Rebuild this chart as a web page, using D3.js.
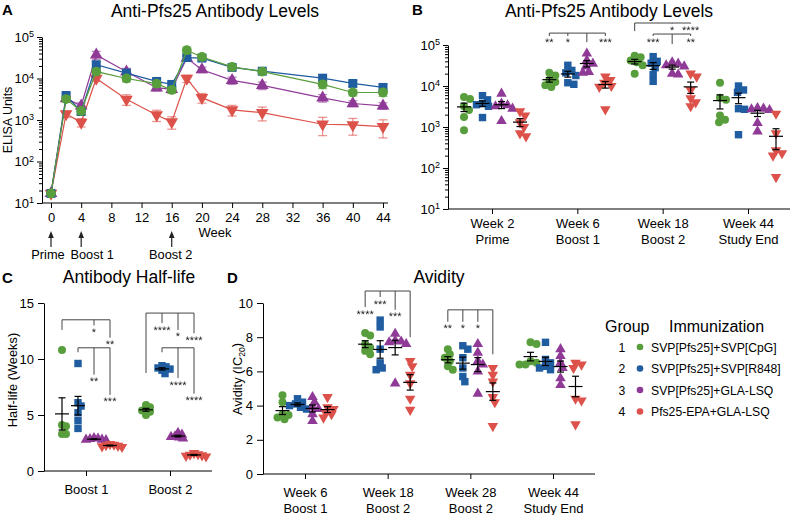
<!DOCTYPE html>
<html>
<head>
<meta charset="utf-8">
<script src="https://cdn.jsdelivr.net/npm/d3@7"></script>
<style>
  body { margin: 0; background: #fff; }
  svg { font-family: "Liberation Sans", Arial, sans-serif; }
  .stars { text-rendering: geometricPrecision; }
</style>
</head>
<body>
<svg id="fig" width="792" height="515"></svg>
<script>
// ---------- data ----------
const groupIds = ["1", "2", "3", "4"];
const groupNames = ["SVP[Pfs25]+SVP[CpG]", "SVP[Pfs25]+SVP[R848]", "SVP[Pfs25]+GLA-LSQ", "Pfs25-EPA+GLA-LSQ"];
const groupColors = ["#589e3c", "#1f5ca0", "#8e3a96", "#dc524a"];

// A: time course, mean and SEM of ELISA units
const weeksA = [0, 2, 4, 6, 10, 14, 16, 18, 20, 24, 28, 36, 40, 44];
const weekTicksA = [0, 4, 8, 12, 16, 20, 24, 28, 32, 36, 40, 44];
const meanA1 = [17, 3200, 1650, 14700, 10000, 7500, 5300, 48000, 33000, 19000, 14700, 7200, 4600, 4600];
const semA1 = [0, 500, 300, 2500, 1800, 1200, 900, 9000, 5000, 2500, 2000, 1500, 800, 900];
const meanA2 = [17, 3900, 1600, 21500, 13500, 8500, 7200, 32000, 31000, 18500, 15000, 10200, 7600, 6100];
const semA2 = [0, 500, 250, 4000, 2500, 1200, 1000, 4000, 5000, 2500, 2000, 1500, 1200, 1000];
const meanA3 = [17, 3300, 2200, 37000, 14500, 6000, 5500, 31000, 16300, 9000, 6800, 3400, 2500, 2200];
const semA3 = [0, 500, 400, 8000, 3000, 1000, 900, 4000, 2500, 1800, 1400, 700, 400, 400];
const meanA4 = [17, 1400, 880, 10000, 3150, 1320, 900, 10000, 3450, 1750, 1500, 790, 760, 690];
const semA4 = [0, 250, 200, 1500, 900, 400, 300, 2000, 900, 500, 550, 370, 330, 320];
const doses = ["Prime", "Boost 1", "Boost 2"];
const doseWeeks = [0, 4, 16];

// B: individual ELISA units per animal
const catsB = ["Week 2", "Week 6", "Week 18", "Week 44"];
const phasesB = ["Prime", "Boost 1", "Boost 2", "Study End"];
const elisaB1 = [[5400, 4800, 3200, 2600, 1750, 830], [21000, 18000, 14000, 12500, 10500, 9500], [55000, 50000, 42000, 38000, 32000, 20000], [12000, 5200, 4600, 1900, 1500, 1300]];
const elisaB2 = [[5800, 4600, 3700, 3500, 3200, 1700], [32000, 24000, 21000, 18000, 12000, 11000], [52000, 40000, 36000, 28000, 19000, 13000], [10000, 8000, 7000, 2800, 2700, 650]];
const elisaB3 = [[6500, 3700, 3400, 3200, 2800, 1400], [62000, 42000, 35000, 30000, 22000, 21000], [38000, 35000, 32000, 30000, 20000, 19000], [2900, 2800, 2700, 2600, 1250, 780]];
const elisaB4 = [[2400, 1900, 1300, 1000, 700, 590], [17000, 14000, 12000, 10000, 9500, 2700], [20000, 17000, 8000, 5000, 4000, 3200], [2100, 700, 270, 230, 200, 60]];

// C: antibody half-life (weeks)
const catsC = ["Boost 1", "Boost 2"];
const halfLife1 = [[10.8, 4.1, 4.0, 3.3, 3.3], [5.9, 5.7, 5.5, 5.4, 5.3, 5.0]];
const halfLife2 = [[9.6, 6.1, 5.8, 5.2, 4.5, 3.8], [9.4, 9.3, 9.2, 9.1, 9.0, 8.7]];
const halfLife3 = [[2.95, 2.9, 2.85, 2.8, 2.8, 2.75], [3.4, 3.25, 3.1, 3.05, 3.0, 2.9]];
const halfLife4 = [[2.4, 2.35, 2.3, 2.25, 2.2, 2.15], [1.6, 1.5, 1.45, 1.4, 1.35, 1.3]];

// D: avidity (IC20)
const catsD = ["Week 6", "Week 18", "Week 28", "Week 44"];
const phasesD = ["Boost 1", "Boost 2", "Boost 2", "Study End"];
const avidity1 = [[4.6, 4.2, 3.5, 3.45, 3.3, 3.2], [8.25, 8.1, 7.6, 7.4, 7.2, 7.0], [7.3, 7.0, 6.8, 6.6, 6.3, 6.1], [7.7, 7.6, 6.6, 6.5, 6.4, 6.4]];
const avidity2 = [[4.4, 4.2, 4.1, 4.0, 3.9, 3.8], [9.0, 8.6, 7.3, 6.5, 6.2, 6.1], [7.5, 7.3, 6.8, 6.2, 5.7, 5.4], [7.7, 6.7, 6.5, 6.3, 6.2, 6.1]];
const avidity3 = [[4.5, 4.2, 3.9, 3.8, 3.5, 3.1], [8.2, 7.8, 7.75, 7.7, 7.6, 5.3], [7.6, 7.1, 6.6, 6.4, 6.0, 4.7], [7.3, 6.9, 6.5, 6.2, 5.6, 5.2]];
const avidity4 = [[4.5, 3.9, 3.8, 3.6, 3.5, 3.3], [6.6, 6.3, 5.8, 5.3, 4.4, 3.75], [6.2, 5.8, 5.4, 4.5, 4.2, 2.8], [6.5, 6.4, 6.2, 4.4, 4.3, 2.9]];

// significance brackets: category, level, reference group + its drop end, targets [group, drop end, stars]
const bracketsB = [
    { cat: 1, level: 195000, ref: 2, refEnd: 118000, to: [[0, 166000, "**"], [1, 166000, "*"], [3, 166000, "***"]] },
    { cat: 2, level: 344000, ref: 0, refEnd: 219000, to: [[2, 335000, "*"], [3, 335000, "****"]] },
    { cat: 2, level: 185000, ref: 2, refEnd: 105000, to: [[1, 166000, "***"], [3, 166000, "**"]] }
];
const bracketsC = [
    { cat: 0, level: 13.5, ref: 0, refEnd: 12.6, to: [[2, 13.0, "*"], [3, 11.9, "**"]] },
    { cat: 0, level: 11.0, ref: 1, refEnd: 10.6, to: [[2, 8.6, "**"], [3, 6.8, "***"]] },
    { cat: 1, level: 14.1, ref: 0, refEnd: 8.75, to: [[1, 13.2, "****"], [2, 12.6, "*"], [3, 12.3, "****"]] },
    { cat: 1, level: 11.0, ref: 1, refEnd: 10.6, to: [[2, 8.3, "****"], [3, 6.9, "****"]] }
];
const bracketsD = [
    { cat: 1, level: 10.7, ref: 3, refEnd: 8.0, to: [[0, 9.76, "****"], [1, 10.35, "***"], [2, 9.6, "***"]] },
    { cat: 2, level: 9.6, ref: 3, refEnd: 7.0, to: [[0, 8.9, "**"], [1, 8.9, "*"], [2, 8.9, "*"]] }
];

// ---------- helpers ----------
const svg = d3.select("#fig");
// plain pass-through filter: stars are rasterised off-screen in grey scale
svg.append("defs").append("filter").attr("id", "flat")
    .append("feOffset").attr("dx", 0).attr("dy", 0);

const shapes = [d3.symbolCircle, d3.symbolSquare, d3.symbolTriangle, d3.symbolTriangle];
const rotations = [0, 0, 0, 180];

const marker = (g, gi, x, y, size) => g.append("path")
    .attr("d", d3.symbol(shapes[gi], size[gi])())
    .attr("transform", "translate(" + x + "," + y + ") rotate(" + rotations[gi] + ")")
    .attr("fill", groupColors[gi]);

const styleAxis = ax => ax.attr("font-size", null).attr("font-family", null);

function logAxis(g, y, x0) {
    const majors = [10, 100, 1000, 10000, 100000];
    let minors = [];
    for (let e = 1; e < 5; e++) for (let m = 2; m < 10; m++) minors.push(m * Math.pow(10, e));
    g.append("g").attr("transform", "translate(" + x0 + ",0)")
        .call(d3.axisLeft(y).tickValues(minors).tickSize(3).tickSizeOuter(0).tickFormat(""))
        .select(".domain").remove();
    const maj = g.append("g").attr("transform", "translate(" + x0 + ",0)")
        .call(d3.axisLeft(y).tickValues(majors).tickSize(5).tickSizeOuter(0).tickPadding(3));
    styleAxis(maj).attr("font-size", "13px");
    maj.selectAll(".tick text").text(null).each(function (d) {
        const t = d3.select(this);
        t.append("tspan").text("10");
        t.append("tspan").attr("dy", "-0.5em").attr("font-size", "9px").text(Math.round(Math.log10(d)));
    });
}

function linAxis(g, y, x0, ticks) {
    const ax = g.append("g").attr("transform", "translate(" + x0 + ",0)")
        .call(d3.axisLeft(y).tickValues(ticks).tickSize(6).tickSizeOuter(0).tickPadding(4));
    styleAxis(ax).attr("font-size", "13px");
}

function catAxis(g, x, y0, x0, x1, lines, base, gap) {
    const ax = g.append("g").attr("transform", "translate(0," + y0 + ")")
        .call(d3.axisBottom(x).tickSize(5).tickSizeOuter(0));
    styleAxis(ax).attr("font-size", "13px");
    ax.select(".domain").remove();
    ax.selectAll(".tick text").attr("dy", null).attr("y", null).text(null)
        .each(function (d, i) {
            lines[i].forEach((s, k) => d3.select(this).append("tspan")
                .attr("x", 0).attr("y", base + k * gap).text(s));
        });
    g.append("line").attr("x1", x0).attr("x2", x1).attr("y1", y0).attr("y2", y0).attr("stroke", "#000");
}

// simple beeswarm: dodge points horizontally so they do not pile up
function swarm(ys, gap) {
    const placed = [];
    ys.forEach(yv => {
        let dx = 0;
        for (let k = 0; k < 80; k++) {
            const cand = k === 0 ? 0 : (k % 2 ? Math.ceil(k / 2) : -k / 2);
            if (placed.every(p => Math.hypot(p[0] - cand, p[1] - yv) >= gap)) { dx = cand; break; }
        }
        placed.push([dx, yv]);
    });
    return placed;
}

function scatter(g, x, y, cats, offsets, table, size, gap) {
    const marks = g.append("g"), bars = g.append("g");
    table.forEach((byCat, gi) => byCat.forEach((vals, ci) => {
        const cx = x(cats[ci]) + offsets[gi];
        swarm(vals.map(v => y(v)), gap).forEach(p => marker(marks, gi, cx + p[0], p[1], size));
        const m = d3.mean(vals), se = d3.deviation(vals) / Math.sqrt(vals.length);
        const lo = Math.max(m - se, y.domain()[0]), hi = m + se;
        const bar = bars.append("g").attr("stroke", "#000").attr("stroke-width", 1.2);
        bar.append("line").attr("x1", cx - 7).attr("x2", cx + 7).attr("y1", y(m)).attr("y2", y(m));
        bar.append("line").attr("x1", cx).attr("x2", cx).attr("y1", y(lo)).attr("y2", y(hi));
        [lo, hi].forEach(v => bar.append("line").attr("x1", cx - 3.5).attr("x2", cx + 3.5).attr("y1", y(v)).attr("y2", y(v)));
    }));
}

function brackets(g, x, y, cats, offsets, list) {
    const sg = g.append("g").attr("class", "stars").attr("filter", "url(#flat)");
    list.forEach(b => {
        const cx = gi => x(cats[b.cat]) + offsets[gi];
        const xs = [b.ref].concat(b.to.map(t => t[0])).map(cx);
        const yl = y(b.level);
        const bg = g.append("g").attr("stroke", "#444").attr("stroke-width", 1);
        bg.append("line").attr("x1", d3.min(xs)).attr("x2", d3.max(xs)).attr("y1", yl).attr("y2", yl);
        bg.append("line").attr("x1", cx(b.ref)).attr("x2", cx(b.ref)).attr("y1", yl).attr("y2", y(b.refEnd));
        b.to.forEach(t => {
            bg.append("line").attr("x1", cx(t[0])).attr("x2", cx(t[0])).attr("y1", yl).attr("y2", y(t[1]));
            sg.append("text").attr("x", cx(t[0])).attr("y", y(t[1]) + 10.5)
                .attr("text-anchor", "middle").attr("font-size", "11px").attr("fill", "#222").text(t[2]);
        });
    });
}

function title(x, y, s) {
    svg.append("text").attr("x", x).attr("y", y).attr("text-anchor", "middle")
        .attr("font-size", "17.5px").text(s);
}
function letter(x, y, s) {
    svg.append("text").attr("x", x).attr("y", y).attr("font-size", "15px")
        .attr("font-weight", "bold").text(s);
}

const smallSizes = [50, 55, 48, 48];

// ---------- panel A ----------
const gA = svg.append("g");
const xA = d3.scaleLinear().domain([0, 44]).range([51, 383]);
const yA = d3.scaleLog().domain([10, 1e5]).range([203, 37]);
letter(2, 15, "A");
title(215, 17, "Anti-Pfs25 Antibody Levels");
logAxis(gA, yA, 42);
const axA = gA.append("g").attr("transform", "translate(0,203)")
    .call(d3.axisBottom(xA).tickValues(weekTicksA).tickSize(5).tickPadding(5));
styleAxis(axA).attr("font-size", "13px");
axA.select(".domain").remove();
gA.append("line").attr("x1", 42).attr("x2", 388).attr("y1", 203).attr("y2", 203).attr("stroke", "#000");
gA.append("text").attr("x", 215).attr("y", 237).attr("text-anchor", "middle").attr("font-size", "13px").text("Week");
gA.append("text").attr("transform", "translate(12,120) rotate(-90)").attr("text-anchor", "middle")
    .attr("font-size", "12.5px").text("ELISA Units");

const seriesA = [[meanA1, semA1], [meanA2, semA2], [meanA3, semA3], [meanA4, semA4]];
const bigSizes = [75, 80, 70, 70];
[3, 2, 1, 0].forEach(gi => {
    const [means, sems] = seriesA[gi];
    const sg = gA.append("g");
    sg.append("path").datum(weeksA.map((w, i) => [w, means[i]]))
        .attr("fill", "none").attr("stroke", groupColors[gi]).attr("stroke-width", 1.2)
        .attr("d", d3.line().x(d => xA(d[0])).y(d => yA(d[1])));
    weeksA.forEach((w, i) => {
        if (!sems[i]) return;
        const cx = xA(w), lo = yA(Math.max(means[i] - sems[i], 10)), hi = yA(means[i] + sems[i]);
        const eb = sg.append("g").attr("stroke", groupColors[gi]).attr("stroke-opacity", 0.6).attr("stroke-width", 1.3);
        eb.append("line").attr("x1", cx).attr("x2", cx).attr("y1", lo).attr("y2", hi);
        [lo, hi].forEach(v => eb.append("line").attr("x1", cx - 4.5).attr("x2", cx + 4.5).attr("y1", v).attr("y2", v));
    });
    weeksA.forEach((w, i) => marker(sg, gi, xA(w), yA(means[i]), bigSizes));
});

// dose arrows
const labelShift = [-3, 11, -1];
doseWeeks.forEach((w, i) => {
    const cx = xA(w);
    gA.append("line").attr("x1", cx).attr("x2", cx).attr("y1", 247).attr("y2", 237).attr("stroke", "#222").attr("stroke-width", 1.2);
    gA.append("path").attr("d", "M" + (cx - 2.8) + ",238 L" + cx + ",231 L" + (cx + 2.8) + ",238 Z").attr("fill", "#222");
    gA.append("text").attr("x", cx + labelShift[i]).attr("y", 259).attr("text-anchor", "middle")
        .attr("font-size", "12.8px").text(doses[i]);
});

// ---------- panel B ----------
const gB = svg.append("g");
const xB = d3.scalePoint().domain(catsB).range([492, 748]);
const yB = d3.scaleLog().domain([10, 1e5]).range([209, 45]);
const offB = [-28, -9.5, 9.5, 28];
letter(412, 15, "B");
title(609, 17, "Anti-Pfs25 Antibody Levels");
logAxis(gB, yB, 448);
catAxis(gB, xB, 209, 448, 790, catsB.map((c, i) => [c, phasesB[i]]), 19, 16);
scatter(gB, xB, yB, catsB, offB, [elisaB1, elisaB2, elisaB3, elisaB4], smallSizes, 6);
brackets(gB, xB, yB, catsB, offB, bracketsB);

// ---------- panel C ----------
const gC = svg.append("g");
const xC = d3.scalePoint().domain(catsC).range([86, 170]);
const yC = d3.scaleLinear().domain([0, 15]).range([471, 303]);
const offC = [-24, -8, 8, 24];
letter(2, 283, "C");
title(129, 283, "Antibody Half-life");
linAxis(gC, yC, 44, [0, 5, 10, 15]);
catAxis(gC, xC, 471, 44, 212, catsC.map(c => [c]), 23, 16);
gC.append("text").attr("transform", "translate(17,380) rotate(-90)").attr("text-anchor", "middle")
    .attr("font-size", "12.8px").text("Half-life (Weeks)");
scatter(gC, xC, yC, catsC, offC, [halfLife1, halfLife2, halfLife3, halfLife4], smallSizes, 4);
brackets(gC, xC, yC, catsC, offC, bracketsC);

// ---------- panel D ----------
const gD = svg.append("g");
const xD = d3.scalePoint().domain(catsD).range([305, 553]);
const yD = d3.scaleLinear().domain([0, 10]).range([474, 303]);
const offD = [-22.5, -7.5, 7.5, 22.5];
letter(227, 283, "D");
title(439, 283, "Avidity");
linAxis(gD, yD, 263, [0, 2, 4, 6, 8, 10]);
catAxis(gD, xD, 474, 263, 595, catsD.map((c, i) => [c, phasesD[i]]), 23, 16);
const labD = gD.append("text").attr("transform", "translate(242,379) rotate(-90)").attr("text-anchor", "middle")
    .attr("font-size", "12.8px");
labD.append("tspan").text("Avidity (IC");
labD.append("tspan").attr("dy", "0.35em").attr("font-size", "8.5px").text("20");
labD.append("tspan").attr("dy", "-0.35em").text(")");
scatter(gD, xD, yD, catsD, offD, [avidity1, avidity2, avidity3, avidity4], smallSizes, 5.5);
brackets(gD, xD, yD, catsD, offD, bracketsD);

// ---------- legend ----------
const gL = svg.append("g");
gL.append("text").attr("x", 605).attr("y", 332).attr("font-size", "16px").text("Group");
gL.append("text").attr("x", 669).attr("y", 332).attr("font-size", "16px").text("Immunization");
groupIds.forEach((id, i) => {
    const yy = 347 + i * 21.5;
    gL.append("text").attr("x", 622).attr("y", yy + 4.5).attr("text-anchor", "middle").attr("font-size", "12.2px").text(id);
    gL.append("circle").attr("cx", 640).attr("cy", yy).attr("r", 3.3).attr("fill", groupColors[i]);
    gL.append("text").attr("x", 651).attr("y", yy + 4.5).attr("font-size", "12.2px").text(groupNames[i]);
});
</script>
</body>
</html>
